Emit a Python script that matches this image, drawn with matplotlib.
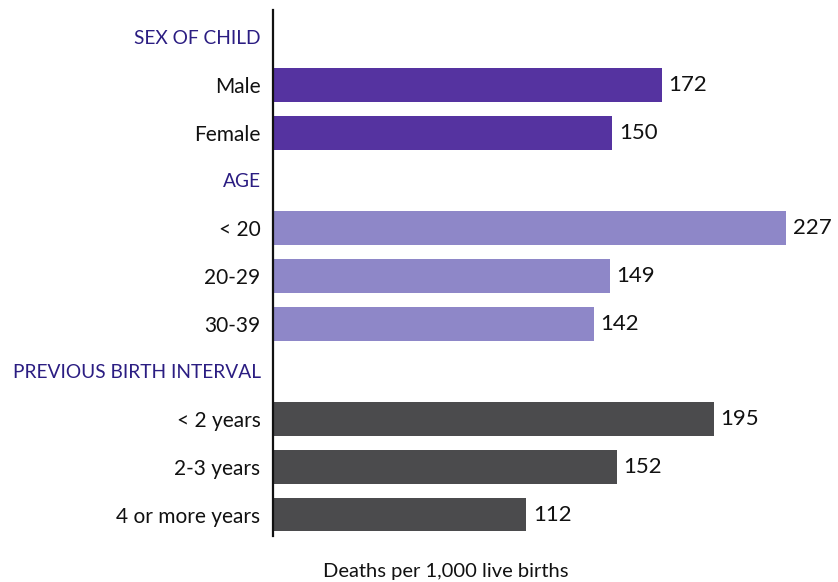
import matplotlib
matplotlib.use("Agg")
import matplotlib.pyplot as plt

# Rows from top to bottom; group headers have no value
row_labels = ["SEX OF CHILD", "Male", "Female",
              "AGE", "< 20", "20-29", "30-39",
              "PREVIOUS BIRTH INTERVAL", "< 2 years", "2-3 years", "4 or more years"]
values = [None, 172, 150,
          None, 227, 149, 142,
          None, 195, 152, 112]
groups = [None, "sex", "sex",
          None, "age", "age", "age",
          None, "interval", "interval", "interval"]
xlabel = "Deaths per 1,000 live births"

group_colors = {"sex": "#5533a0", "age": "#8e87c8", "interval": "#4b4b4d"}
header_color = "#2b1d82"
text_color = "#111111"
font = "Lato"

W, H = 838, 582
fig = plt.figure(figsize=(W / 100, H / 100), dpi=100)
ax_left, ax_right, ax_top, ax_bottom = 273, 840, 10, 536
ax = fig.add_axes([ax_left / W, 1 - ax_bottom / H,
                   (ax_right - ax_left) / W, (ax_bottom - ax_top) / H])

n = len(row_labels)
for i, (lab, v, g) in enumerate(zip(row_labels, values, groups)):
    if v is not None:
        ax.barh(i, v, height=0.71, color=group_colors[g], edgecolor="none")
        ax.text(v + 3, i, str(v), va="center", ha="left",
                fontsize=16, color=text_color, family=font)

ax.set_yticks(range(n))
ax.set_yticklabels(row_labels, family=font, fontsize=15)
for tl, v in zip(ax.get_yticklabels(), values):
    if v is None:
        tl.set_color(header_color)
        tl.set_fontsize(13.8)
    else:
        tl.set_color(text_color)
ax.tick_params(axis="y", length=0, pad=9)
ax.set_xticks([])

ax.set_xlim(0, (ax_right - ax_left) / 2.26)
ax.set_ylim(n - 0.55, -0.57)

for s in ["top", "right", "bottom"]:
    ax.spines[s].set_visible(False)
ax.spines["left"].set_linewidth(1.6)
ax.spines["left"].set_color("#111111")

fig.text(446 / W, 1 - 571 / H, xlabel, ha="center", va="center",
         fontsize=14.5, color=text_color, family=font)

fig.savefig("out.png", dpi=100, facecolor="white")
